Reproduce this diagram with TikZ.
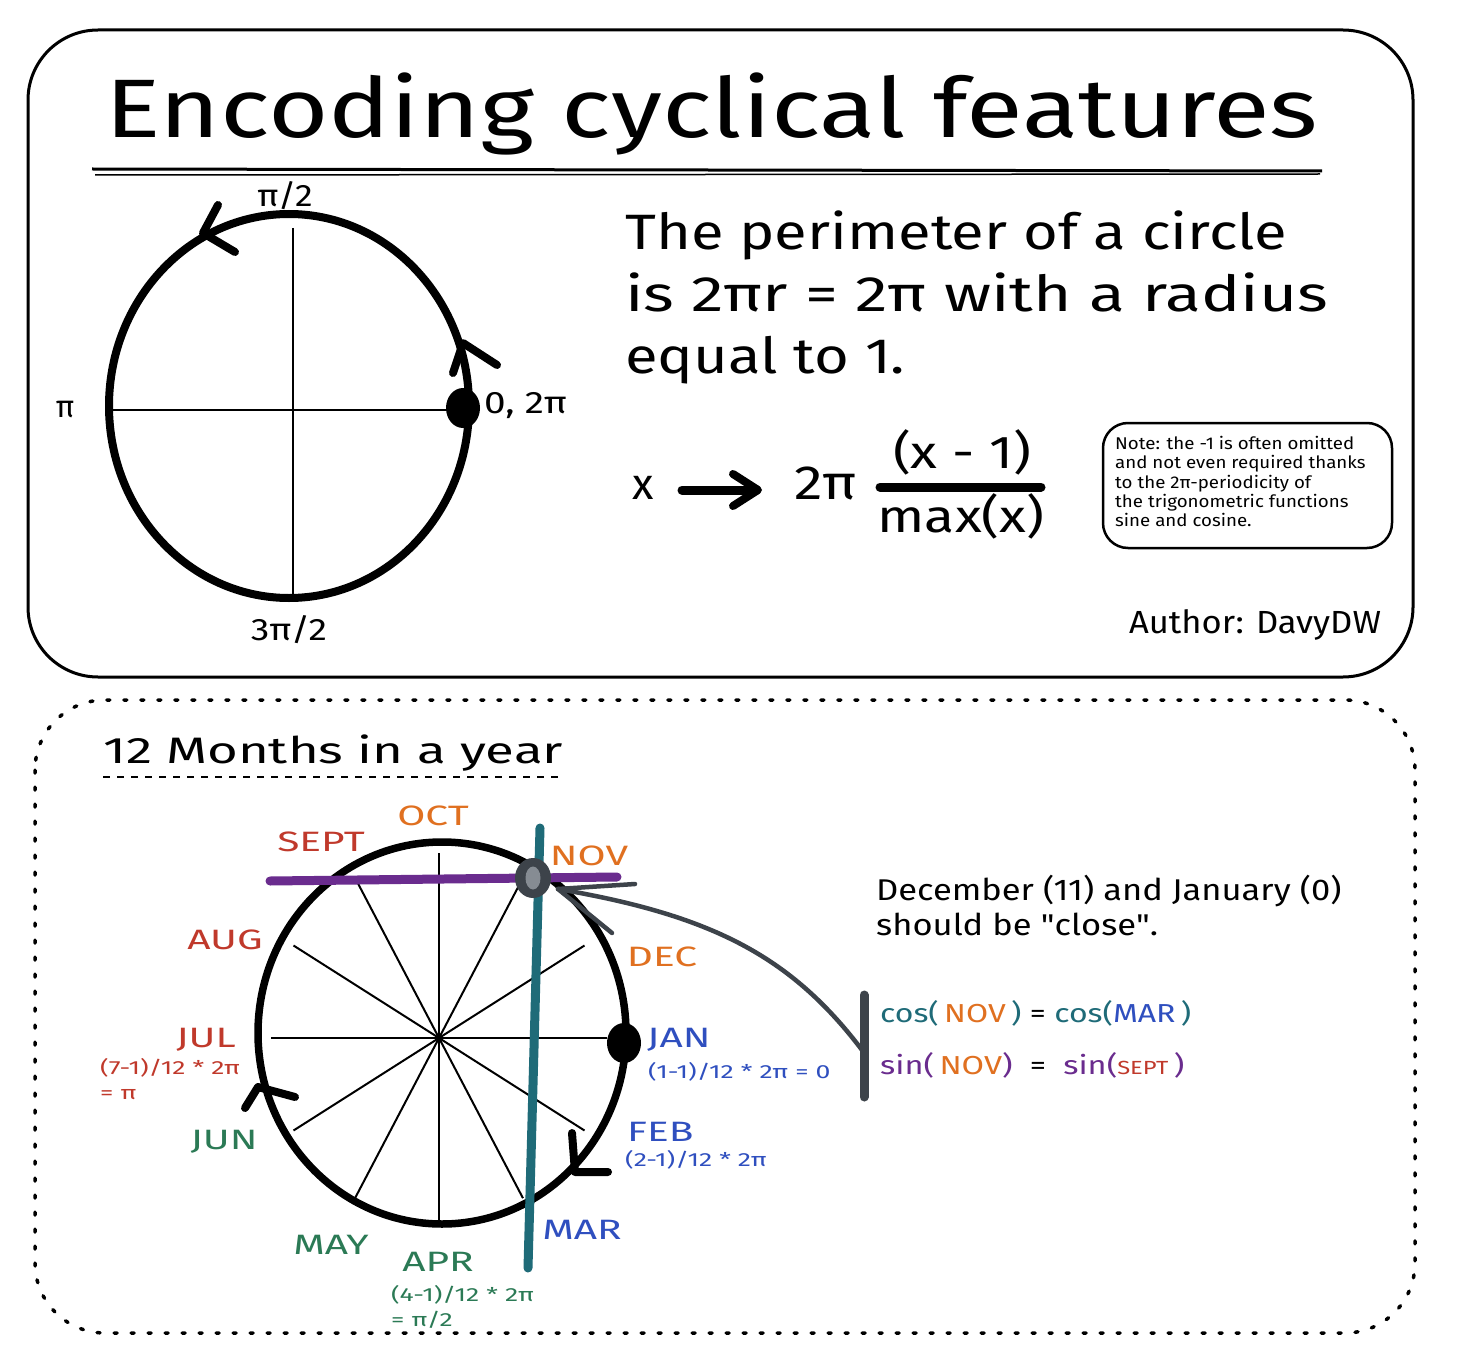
\documentclass[tikz,border=0pt]{standalone}
\usepackage{fontspec}
\usepackage{graphicx}
\setmainfont{Fira Sans}
\newfontfamily\noligfont{Fira Sans}[Ligatures=TeXOff]
\usetikzlibrary{shapes.geometric,calc}
\definecolor{cteal}{HTML}{1F6B78}
\definecolor{cpurple}{HTML}{6A2C8E}
\definecolor{corange}{HTML}{E07020}
\definecolor{cred}{HTML}{C0392B}
\definecolor{cblue}{HTML}{2F4FBF}
\definecolor{cgreen}{HTML}{2B7A55}
\definecolor{cgray}{HTML}{3D434A}
\definecolor{clgray}{HTML}{868C93}
\newcommand\fsz[2]{\fontsize{#1}{#2}\selectfont}
\newcommand\hs[2]{\scalebox{#1}[1]{#2}}
\newcommand\mstr[1]{\scalebox{1.45}[1]{#1}}
\newcommand\sstr[1]{\scalebox{1.4}[1]{#1}}
\newcommand\sq{{\noligfont"}}
\tikzset{
  frame/.style={line width=3pt, rounded corners=70pt},
  thickcurve/.style={line width=8pt},
  spoke/.style={line width=2pt},
  chev/.style={line width=8pt, line cap=round, line join=round},
  lbl/.style={inner sep=0pt, font=\fsz{31}{36}},
  month/.style={inner sep=0pt, font=\fsz{28}{32}},
  small/.style={inner sep=0pt, font=\fsz{19}{25}, align=left},
}
\begin{document}
\begin{tikzpicture}[x=1pt,y=-1pt]
\useasboundingbox[fill=white] (0,0) rectangle (1472,1364);

% ---------- top panel ----------
\draw[frame] (28,30) rectangle (1413,677);
\node[inner sep=0pt, anchor=base west] (title) at (105,138)
  {\scalebox{1}[0.8]{\resizebox{1213pt}{!}{\fsz{86}{100}Encoding cyclical features}}};
\draw[line width=3pt] (92,169) -- (1322,171);
\draw[line width=1.5pt] (95,175) -- (1320,174);

% upper circle
\draw[thickcurve] (289,406) ellipse [x radius=180, y radius=192];
\draw[spoke] (113,410) -- (460,410);
\draw[spoke] (293,228) -- (293,595);
\node[ellipse, fill=black, minimum width=34pt, minimum height=40pt, inner sep=0pt] (dot0) at (463,408) {};
\draw[chev] (218,205) -- (203,233) -- (235,252);
\draw[chev] (453,373) -- (463,343) -- (497,365);
\node[lbl] (lpi2) at (285,196) {\hs{1.15}{π/2}};
\node[lbl] (lpi) at (65,410) {π};
\node[lbl, anchor=west] (l0) at (484,406) {\hs{1.25}{0, 2π}};
\node[lbl] (l3pi2) at (289,630) {\hs{1.2}{3π/2}};

% perimeter text
\node[inner sep=0pt, anchor=base west] (p1) at (625,250) {\resizebox{662pt}{0.92\height}{\fsz{54}{60}The perimeter of a circle}};
\node[inner sep=0pt, anchor=base west] (p2) at (625,312) {\resizebox{703pt}{0.92\height}{\fsz{54}{60}is 2πr = 2π with a radius}};
\node[inner sep=0pt, anchor=base west] (p3) at (625,373) {\resizebox{280pt}{0.92\height}{\fsz{54}{60}equal to 1.}};

% formula
\node[inner sep=0pt, font=\fsz{44}{54}] (fx) at (643,488) {x};
\draw[line width=9pt, line cap=round] (682,490) -- (748,490);
\draw[line width=8pt, line cap=round, line join=round] (733,474) -- (758,490) -- (733,506);
\node[inner sep=0pt, font=\fsz{48}{54}] (f2pi) at (826,483) {\hs{1.2}{2π}};
\node[inner sep=0pt, font=\fsz{46}{54}] (fnum) at (962,452) {\hs{1.2}{(x - 1)}};
\draw[line width=9pt, line cap=round] (880,487) -- (1041,487);
\node[inner sep=0pt, font=\fsz{46}{54}] (fden) at (961,516) {\hs{1.2}{max(x)}};

% note box
\draw[line width=2.5pt, rounded corners=25pt] (1103,423) rectangle (1392,548);
\node[inner sep=0pt, anchor=north west, align=left, font=\fsz{17}{19.3}] (note) at (1115,436)
  {\hs{1.1}{Note: the -1 is often omitted}\\\hs{1.1}{and not even required thanks}\\\hs{1.1}{to the 2π-periodicity of}\\\hs{1.1}{the trigonometric functions}\\\hs{1.1}{sine and cosine.}};

\node[inner sep=0pt, font=\fsz{32}{36}] (author) at (1255,625) {\hs{1.08}{Author: DavyDW}};

% ---------- bottom panel ----------
\draw[line width=3.5pt, rounded corners=70pt, line cap=round, dash pattern=on 3pt off 14pt] (35,700) rectangle (1415,1333);
\node[inner sep=0pt, anchor=base west, font=\fsz{40}{46}] (months) at (103,763) {\resizebox{460pt}{0.92\height}{12 Months in a year}};
\draw[line width=2.5pt, dash pattern=on 7pt off 7pt] (103,777) -- (563,777);

% lower circle spokes
\foreach \a in {0,30,...,150}{
  \draw[spoke] ($(439,1038)+(\a:168 and 185)$) -- ($(439,1038)+(\a+180:168 and 185)$);
}
\draw[line width=7.5pt] (442,1033) ellipse [x radius=184, y radius=191];
\node[ellipse, fill=black, minimum width=34pt, minimum height=40pt, inner sep=0pt] (dotjan) at (624,1043) {};
\draw[chev] (245,1108) -- (258,1087) -- (295,1097);
\draw[chev] (572,1133) -- (575,1172) -- (608,1172);

% teal and purple lines
\coordinate (tealtop) at (540,828);
\coordinate (tealbot) at (528,1268);
\coordinate (purl) at (270,881);
\coordinate (purr) at (617,877);
\draw[cpurple, line width=9pt, line cap=round] (purl) -- (purr);
\draw[cteal, line width=9pt, line cap=round] (tealtop) -- (tealbot);

% connector
\coordinate (bartop) at (864,995);
\coordinate (barbot) at (864,1097);
\coordinate (barmid) at (862,1050);
\coordinate (tip) at (558,889);
\coordinate (barb1) at (635,884);
\coordinate (barb2) at (612,933);
\draw[cgray, line width=4.5pt, line cap=round] (tip) -- (barb1);
\draw[cgray, line width=4.5pt, line cap=round] (tip) -- (barb2);
\draw[cgray, line width=4.5pt, line cap=round] (tip) .. controls (710,915) and (790,955) .. (barmid);
\draw[cgray, line width=9pt, line cap=round] (bartop) -- (barbot);
\node[ellipse, fill=cgray, minimum width=36pt, minimum height=40pt, inner sep=0pt] (novpt) at (533,878) {};
\node[ellipse, fill=clgray, minimum width=15pt, minimum height=23pt, inner sep=0pt] (novin) at (533,878) {};

% month labels
\node[month, text=corange] (oct) at (433,816) {\mstr{OCT}};
\node[month, text=cred] (sept) at (321,842) {\mstr{SEPT}};
\node[month, text=corange] (nov) at (589,856) {\mstr{NOV}};
\node[month, text=cred] (aug) at (225,940) {\mstr{AUG}};
\node[month, text=corange] (dec) at (662,957) {\mstr{DEC}};
\node[month, text=cred] (jul) at (206,1040) {\mstr{JUL}};
\node[small, text=cred, anchor=north west] (julf) at (100,1058) {\sstr{(7-1)/12 * 2π}\\\sstr{= π}};
\node[month, text=cblue, anchor=west] (jan) at (647,1040) {\mstr{JAN}};
\node[small, text=cblue, anchor=west] (janf) at (648,1072) {\sstr{(1-1)/12 * 2π = 0}};
\node[month, text=cblue, anchor=west] (feb) at (627,1132) {\mstr{FEB}};
\node[small, text=cblue, anchor=west] (febf) at (625,1160) {\sstr{(2-1)/12 * 2π}};
\node[month, text=cgreen] (jun) at (224,1142) {\mstr{JUN}};
\node[month, text=cgreen] (may) at (331,1245) {\mstr{MAY}};
\node[month, text=cgreen] (apr) at (438,1262) {\mstr{APR}};
\node[small, text=cgreen, anchor=north west] (aprf) at (391,1285) {\sstr{(4-1)/12 * 2π}\\\sstr{= π/2}};
\node[month, text=cblue] (mar) at (582,1230) {\mstr{MAR}};

% right texts
\node[inner sep=0pt, anchor=north west, align=left, font=\fsz{30}{35}] (close) at (876,875)
  {\hs{1.15}{December (11) and January (0)}\\\hs{1.15}{should be \sq close\sq.}};
\node[inner sep=0pt, anchor=west, font=\fsz{26}{30}] (eqcos) at (880,1013)
  {\hs{1.23}{\textcolor{cteal}{cos(}\,\textcolor{corange}{NOV}\,\textcolor{cteal}{)} = \textcolor{cteal}{cos(}\textcolor{cblue}{MAR}\,\textcolor{cteal}{)}}};
\node[inner sep=0pt, anchor=west, font=\fsz{26}{30}] (eqsin) at (880,1065)
  {\hs{1.25}{\textcolor{cpurple}{sin(}\,\textcolor{corange}{NOV}\textcolor{cpurple}{)} \ = \ \textcolor{cpurple}{sin(}\textcolor{cred}{\fsz{19}{22}SEPT}\,\textcolor{cpurple}{)}}};
\end{tikzpicture}
\end{document}
